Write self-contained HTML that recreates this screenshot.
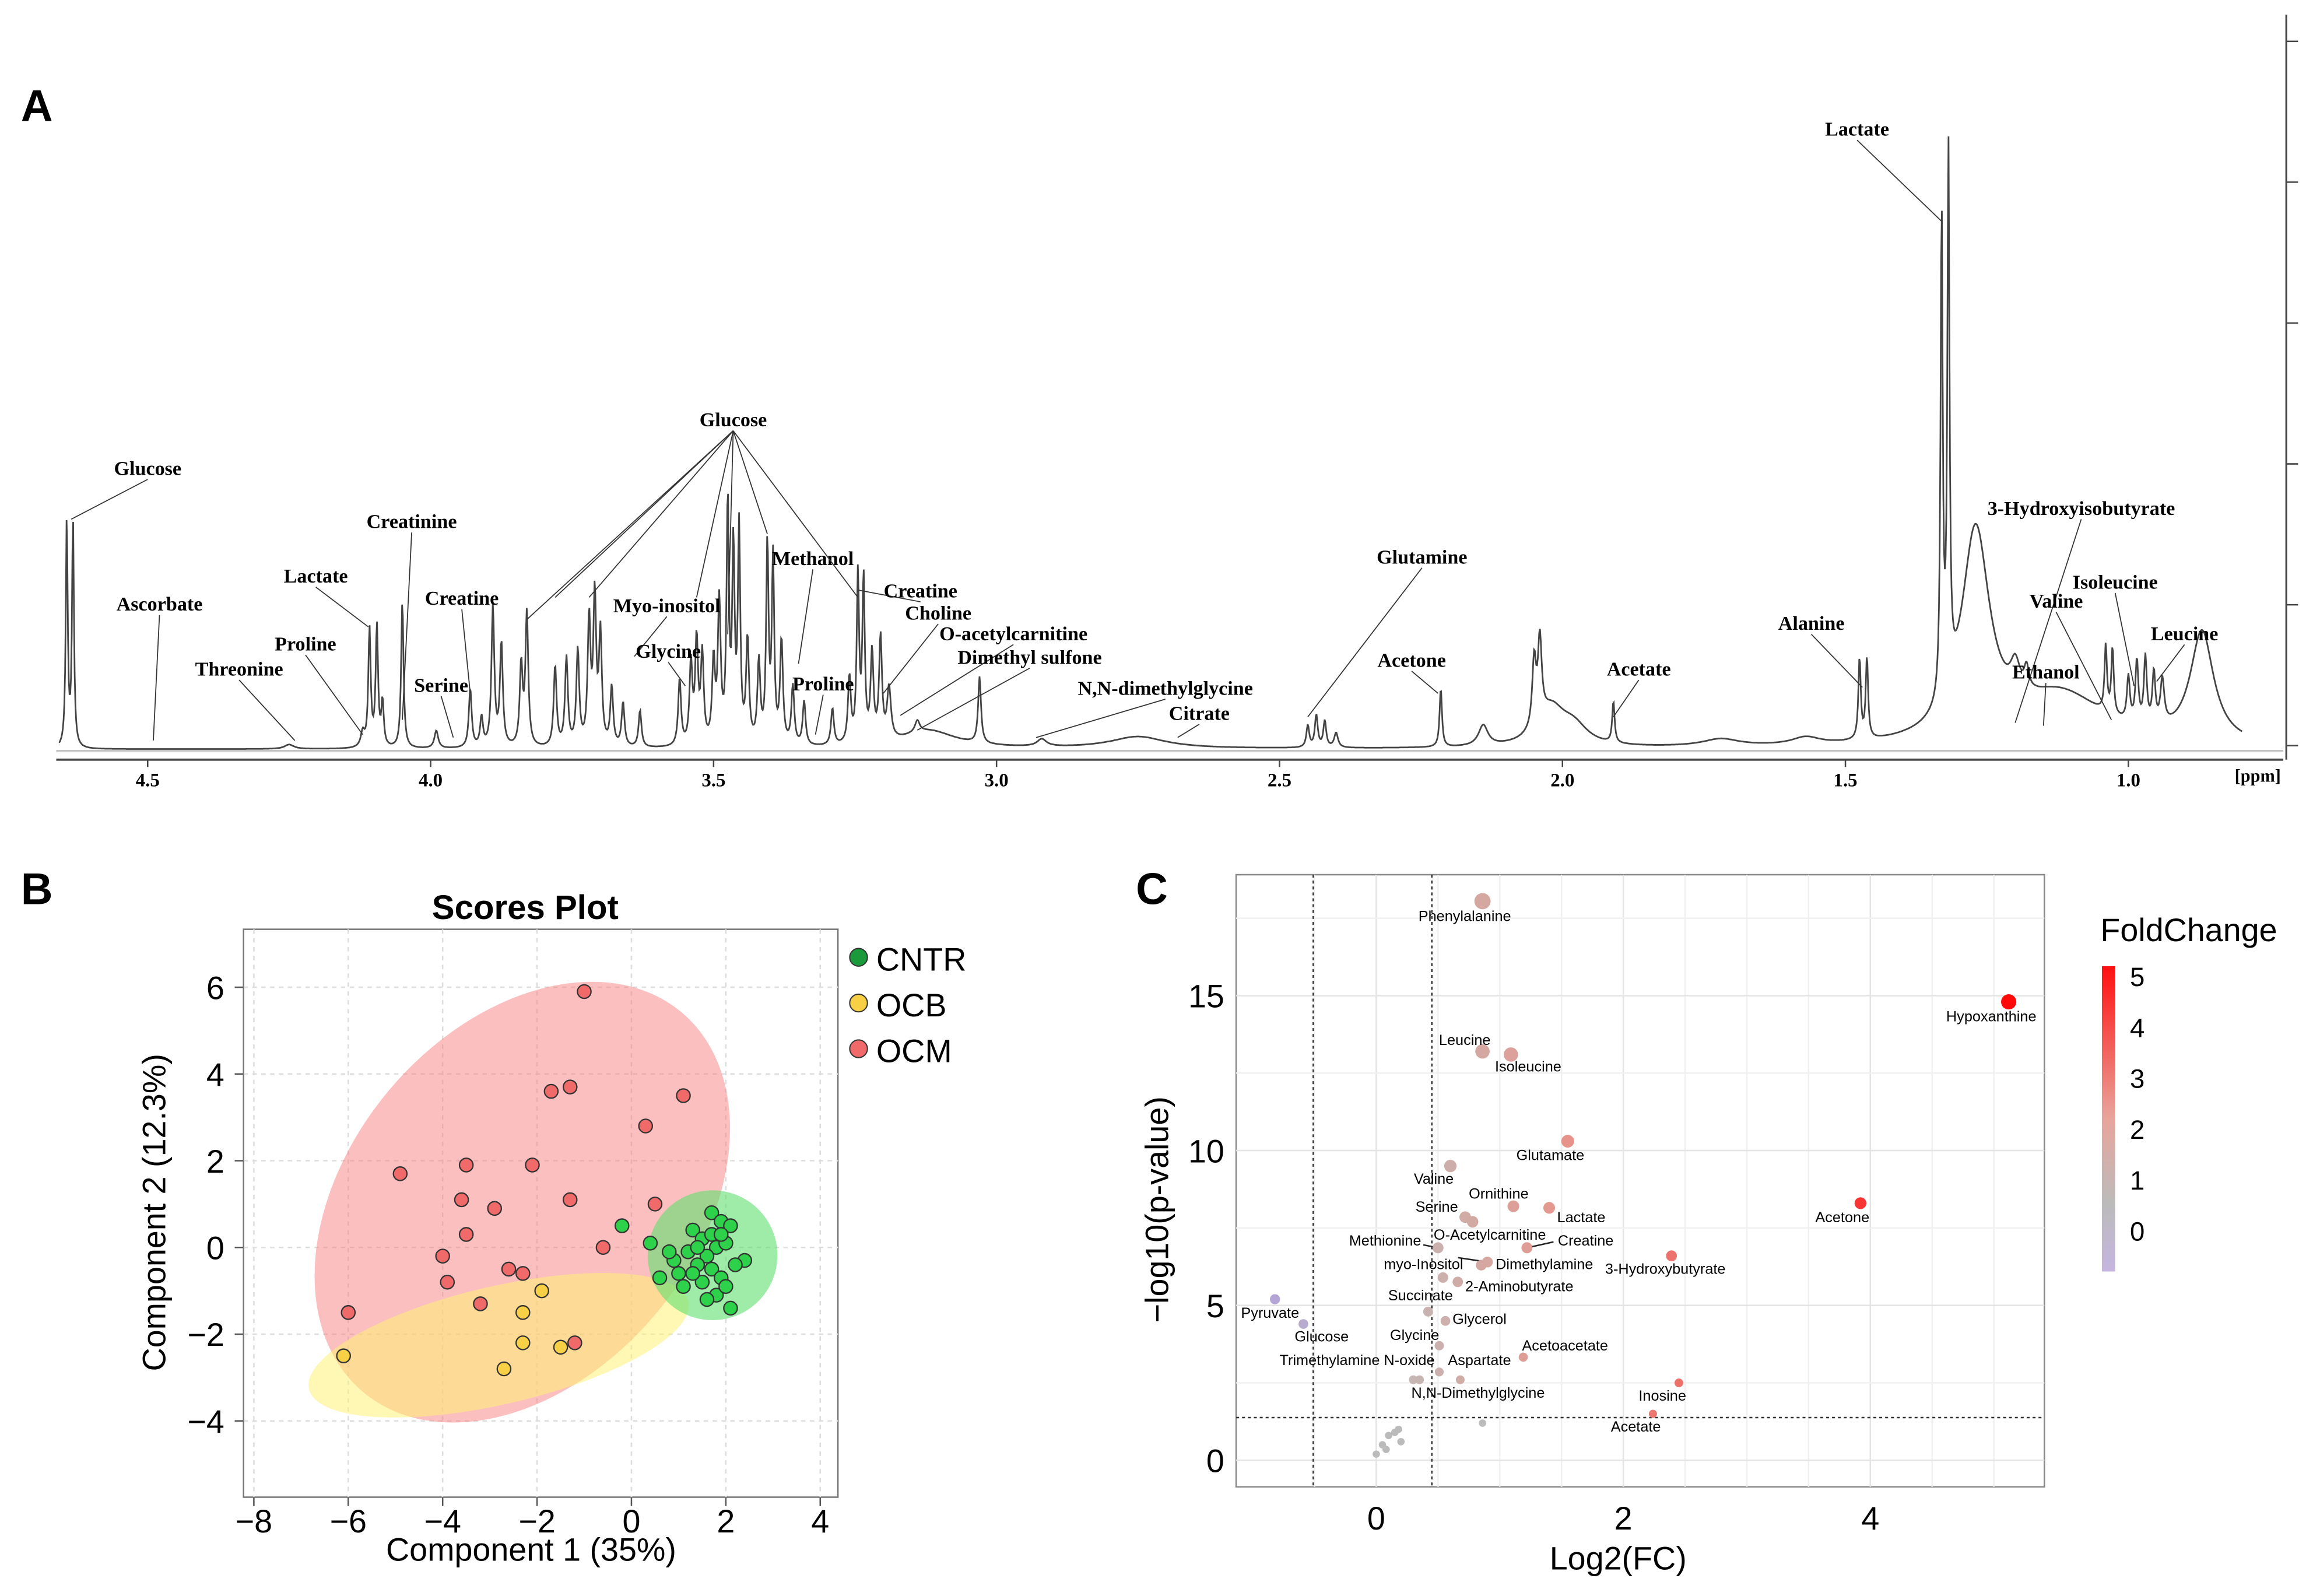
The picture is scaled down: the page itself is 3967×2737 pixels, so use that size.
<!DOCTYPE html>
<html><head><meta charset="utf-8"><style>
html,body{margin:0;padding:0;background:#fff}
svg{display:block}
</style></head><body>
<svg id="fig" xmlns="http://www.w3.org/2000/svg" width="3967" height="2737" viewBox="0 0 1568 1082">
<rect x="0" y="0" width="1568" height="1082" fill="#fff"/>
<g id="panelA"></g>
<g id="panelB"></g>
<g id="panelC"></g>
</svg>
<script>
// ---------- Panel A data ----------
const nmrPeaks = [ // [ppm, height, widthPpm]
[4.643,155,0.002],[4.632,155,0.002],[4.25,3,0.01],[4.12,10,0.004],[4.108,80,0.0025],[4.095,82,0.0025],[4.085,30,0.0025],
[4.05,100,0.0025],[3.99,12,0.004],[3.93,40,0.003],[3.91,20,0.003],[3.89,95,0.003],[3.875,70,0.003],[3.84,55,0.003],
[3.83,90,0.003],[3.78,55,0.003],[3.76,60,0.003],[3.74,65,0.003],[3.72,85,0.003],[3.71,100,0.003],[3.70,75,0.003],
[3.68,40,0.003],[3.66,30,0.003],[3.63,25,0.003],[3.56,45,0.003],[3.54,55,0.003],[3.53,70,0.003],[3.52,60,0.003],
[3.50,55,0.003],[3.49,95,0.003],[3.475,163,0.0025],[3.465,130,0.0025],[3.455,145,0.0025],[3.44,70,0.003],
[3.42,55,0.003],[3.405,135,0.0025],[3.395,125,0.0025],[3.38,70,0.003],[3.36,40,0.003],[3.34,30,0.003],
[3.29,25,0.003],[3.26,45,0.003],[3.245,113,0.0025],[3.235,110,0.0025],[3.22,60,0.003],[3.205,70,0.003],[3.19,35,0.004],
[3.12,12,0.06],[3.14,8,0.005],[3.03,45,0.003],[2.92,5,0.01],[2.75,8,0.06],[2.45,15,0.003],[2.435,22,0.003],[2.42,18,0.003],[2.40,10,0.004],
[2.215,40,0.0025],[2.14,14,0.01],[2.05,45,0.004],[2.04,55,0.004],[2.02,25,0.03],[1.98,12,0.03],[1.91,28,0.0025],
[1.72,5,0.04],[1.57,5,0.03],[1.475,55,0.0025],[1.462,55,0.0025],[1.33,330,0.0022],[1.318,360,0.0022],
[1.27,140,0.03],[1.20,20,0.01],[1.18,15,0.005],[1.04,45,0.0025],[1.028,45,0.0025],[1.00,30,0.003],[0.985,42,0.003],
[0.97,45,0.003],[0.955,35,0.003],[0.94,30,0.004],[0.87,75,0.025],[1.12,35,0.1]
];
const nmrTicks = [4.5,4.0,3.5,3.0,2.5,2.0,1.5,1.0];
const nmrLabels = [ // [text, labelX, labelY, ppmTarget, lineEndY]
["Glucose",100,322,4.635,352],["Ascorbate",108,414,4.49,502],["Threonine",162,458,4.24,502],["Proline",207,441,4.12,498],
["Lactate",214,395,4.11,425],["Creatinine",279,358,4.05,488],["Serine",299,469,3.96,500],["Creatine",313,410,3.93,470],
["Myo-inositol",452,415,3.64,445],["Glycine",453,446,3.55,465],["Glucose",497,289,3.83,420],["Methanol",551,383,3.35,450],
["Proline",558,468,3.32,498],["Creatine",624,405,3.245,400],["Choline",636,420,3.2,470],["O-acetylcarnitine",687,434,3.17,485],
["Dimethyl sulfone",698,450,3.14,495],["N,N-dimethylglycine",790,471,2.93,500],["Citrate",813,488,2.68,500],
["Glutamine",964,382,2.45,486],["Acetone",957,452,2.22,470],["Acetate",1111,458,1.91,486],["Alanine",1228,427,1.47,466],
["Lactate",1259,92,1.33,150],["3-Hydroxyisobutyrate",1411,349,1.20,490],["Isoleucine",1434,399,0.99,465],
["Valine",1394,412,1.03,488],["Ethanol",1387,460,1.15,492],["Leucine",1481,434,0.95,462]
];
// ---------- Panel B data ----------
const ocmX=[-1.0,-1.7,-1.3,1.1,0.3,-4.9,-3.5,-2.1,-3.6,-1.3,0.5,-2.9,-3.5,-0.6,-4.0,-2.6,-2.3,-3.9,-3.2,-6.0,-1.2];
const ocmY=[5.9,3.6,3.7,3.5,2.8,1.7,1.9,1.9,1.1,1.1,1.0,0.9,0.3,0.0,-0.2,-0.5,-0.6,-0.8,-1.3,-1.5,-2.2];
const ocbX=[-6.1,-1.9,-2.3,-2.3,-1.5,-2.7];
const ocbY=[-2.5,-1.0,-1.5,-2.2,-2.3,-2.8];
const cntrX=[-0.2,0.4,1.7,1.9,1.3,2.1,1.5,1.8,2.0,1.2,1.6,2.4,0.9,1.4,1.7,2.2,1.9,1.5,1.1,0.6,1.8,2.1,1.6,1.3,2.0,1.7,1.9,1.4,0.8,1.0];
const cntrY=[0.5,0.1,0.8,0.6,0.4,0.5,0.2,0.0,0.1,-0.1,-0.2,-0.3,-0.3,-0.4,-0.5,-0.4,-0.7,-0.8,-0.9,-0.7,-1.1,-1.4,-1.2,-0.6,-0.9,0.3,0.3,0.0,-0.1,-0.6];
const bXTicks=[-8,-6,-4,-2,0,2,4];
const bYTicks=[-4,-2,0,2,4,6];
// ---------- Panel C data ----------
const volcX=[0.86,5.12,0.86,1.09,1.55,3.92,0.60,0.72,0.78,1.11,1.40,1.22,0.50,0.85,0.90,2.39,0.66,0.54,0.42,0.56,1.19,0.51,0.30,0.35,0.51,0.68,2.45,2.24,-0.82,-0.59,0.86,0.05,0.10,0.15,0.18,0.20,0.0,0.08];
const volcY=[18.05,14.8,13.2,13.1,10.3,8.3,9.5,7.85,7.7,8.2,8.15,6.86,6.86,6.3,6.4,6.6,5.76,5.9,4.8,4.5,3.33,3.7,2.6,2.6,2.85,2.6,2.5,1.5,5.2,4.4,1.2,0.5,0.8,0.9,1.0,0.6,0.2,0.35];
const volcLabels=["Phenylalanine","Hypoxanthine","Leucine","Isoleucine","Glutamate","Acetone","Valine","Serine","","Ornithine","Lactate","Creatine","Methionine","myo-Inositol","Dimethylamine","3-Hydroxybutyrate","2-Aminobutyrate","O-Acetylcarnitine","Succinate","Glycerol","Acetoacetate","Glycine","Trimethylamine N-oxide","","Aspartate","N,N-Dimethylglycine","Inosine","Acetate","Pyruvate","Glucose","","","","","","","",""];
const labelPosX=[993,1350,993,1036,1051,1249,972,974,0,1016,1072,1075,939,965,1047,1129,1030,1010,963,1003,1061,959,920,0,1003,1002,1127,1109,861,896,0,0,0,0,0,0,0,0];
const labelPosY=[621,689,705,723,783,825,799,818,0,809,825,841,841,857,857,860,872,837,878,894,912,905,922,0,922,944,946,967,890,906,0,0,0,0,0,0,0,0];
const cXTicks=[0,2,4];
const cYTicks=[0,5,10,15];
const foldTicks=[0,1,2,3,4,5];

const NS="http://www.w3.org/2000/svg";
function mk(parent,tag,attrs,text){const e=document.createElementNS(NS,tag);for(const k in attrs)e.setAttribute(k,attrs[k]);if(text!==undefined)e.textContent=text;parent.appendChild(e);return e;}

// ===== Panel A =====
(function(){
const g=document.getElementById('panelA');
const xA=p=>100+(4.5-p)*383.7;
const base=508;
const t=mk(g,'text',{x:14,y:82,'font-family':'Liberation Sans, sans-serif','font-size':30,'font-weight':'bold'},'A');

const bl=mk(g,'line',{x1:38,y1:509,x2:1548,y2:509,stroke:'#bbb','stroke-width':1});

let d='';
for(let px=40;px<=1520;px+=0.5){
 const ppm=4.5-(px-100)/383.7;let s=0;
 for(const pk of nmrPeaks){const w=pk[2],dx=ppm-pk[0];s+=pk[1]*w*w/(dx*dx+w*w);}
 d+=(px===40?'M':'L')+px.toFixed(1)+','+(base-s).toFixed(1);
}
const sp=mk(g,'path',{d:d,fill:'none',stroke:'#444',"stroke-width":1.1});

const ax=mk(g,'line',{x1:38,y1:515,x2:1548,y2:515,stroke:'#444','stroke-width':1.5});

const ra=mk(g,'line',{x1:1550,y1:10,x2:1550,y2:515,stroke:'#444','stroke-width':1.2});

for(let i=0;i<6;i++){const yy=28+i*95.5;const tk=mk(g,'line',{x1:1550,y1:yy,x2:1558,y2:yy,stroke:'#444'});}
for(const v of nmrTicks){
 const tl=mk(g,'line',{x1:xA(v),y1:515,x2:xA(v),y2:520,stroke:'#444'});
 
 const tx=mk(g,'text',{x:xA(v),y:533,'text-anchor':'middle','font-family':'Liberation Serif, serif','font-size':13,'font-weight':'bold'},v.toFixed(1));
 
}
const pu=mk(g,'text',{x:1515,y:530,'font-family':'Liberation Serif, serif','font-size':12,'font-weight':'bold'},'[ppm]');

for(const L of nmrLabels){
 const ln=mk(g,'line',{x1:L[1],y1:L[2]+3,x2:xA(L[3]),y2:L[4],stroke:'#333','stroke-width':0.7});
 
 const tx=mk(g,'text',{x:L[1],y:L[2],'text-anchor':'middle','font-family':'Liberation Serif, serif','font-size':13.5,'font-weight':'bold'},L[0]);
 
}
[3.78,3.72,3.53,3.475,3.405,3.245].forEach(p=>{const ln=mk(g,'line',{x1:497,y1:292,x2:xA(p),y2:p===3.475?430:(p===3.405?362:405),stroke:'#333','stroke-width':0.7});});
})();

// ===== Panel B =====
(function(){
const g=document.getElementById('panelB');
const xB=v=>428+v*32, yB=v=>845.7-v*29.4;
const L=mk(g,'text',{x:14,y:613,'font-family':'Liberation Sans, sans-serif','font-size':30,'font-weight':'bold'},'B');

const ti=mk(g,'text',{x:356,y:623,'text-anchor':'middle','font-family':'Liberation Sans, sans-serif','font-size':23,'font-weight':'bold'},'Scores Plot');

const fr=mk(g,'rect',{x:165,y:630,width:403,height:385,fill:'#fff',stroke:'#777','stroke-width':1});

for(const v of bXTicks){const l=mk(g,'line',{x1:xB(v),y1:630,x2:xB(v),y2:1015,stroke:'#ddd','stroke-dasharray':'3,3'});
 const tk=mk(g,'line',{x1:xB(v),y1:1015,x2:xB(v),y2:1021,stroke:'#555'});
 const tx=mk(g,'text',{x:xB(v),y:1039,'text-anchor':'middle','font-family':'Liberation Sans, sans-serif','font-size':22},v<0?'\u2212'+(-v):String(v));}
for(const v of bYTicks){const l=mk(g,'line',{x1:165,y1:yB(v),x2:568,y2:yB(v),stroke:'#ddd','stroke-dasharray':'3,3'});
 const tk=mk(g,'line',{x1:159,y1:yB(v),x2:165,y2:yB(v),stroke:'#555'});
 const tx=mk(g,'text',{x:152,y:yB(v)+8,'text-anchor':'end','font-family':'Liberation Sans, sans-serif','font-size':22},v<0?'\u2212'+(-v):String(v));}
const e1=mk(g,'ellipse',{cx:354,cy:815,rx:168,ry:118,transform:'rotate(-50 354 815)',fill:'#f98080','fill-opacity':0.5});

const e2=mk(g,'ellipse',{cx:338,cy:912,rx:132,ry:40,transform:'rotate(-13 338 912)',fill:'#fff176','fill-opacity':0.55});

const e3=mk(g,'circle',{cx:483,cy:851,r:44,fill:'#5fe070','fill-opacity':0.6});

function pts(X,Y,col,name){for(let i=0;i<X.length;i++){const c=mk(g,'circle',{cx:xB(X[i]),cy:yB(Y[i]),r:4.6,fill:col,stroke:'#333','stroke-width':0.9});}}
pts(ocmX,ocmY,'#f06a6a','ocm-point');pts(ocbX,ocbY,'#f7d046','ocb-point');pts(cntrX,cntrY,'#2ed14a','cntr-point');
const ax=mk(g,'text',{x:360,y:1058,'text-anchor':'middle','font-family':'Liberation Sans, sans-serif','font-size':22},'Component 1 (35%)');

const ay=mk(g,'text',{x:0,y:0,transform:'translate(112 822) rotate(-90)','text-anchor':'middle','font-family':'Liberation Sans, sans-serif','font-size':22},'Component 2 (12.3%)');

[['CNTR','#1a9a3a',651],['OCB','#f7d046',682],['OCM','#f06a6a',713]].forEach(l=>{
 const c=mk(g,'circle',{cx:582,cy:l[2]-2,r:6,fill:l[1],stroke:'#333','stroke-width':0.8});
 const t=mk(g,'text',{x:594,y:l[2]+7,'font-family':'Liberation Sans, sans-serif','font-size':22},l[0]);});
})();

// ===== Panel C =====
(function(){
const g=document.getElementById('panelC');
const xC=v=>933+v*83.75, yC=v=>990-v*21;
const L=mk(g,'text',{x:770,y:613,'font-family':'Liberation Sans, sans-serif','font-size':30,'font-weight':'bold'},'C');

const fr=mk(g,'rect',{x:838,y:593,width:548,height:415,fill:'#fff',stroke:'#888','stroke-width':1});

for(let v=-0.5;v<=5.5;v+=0.5){if(xC(v)<838||xC(v)>1386)continue;const l=mk(g,'line',{x1:xC(v),y1:593,x2:xC(v),y2:1008,stroke:Number.isInteger(v/2)?'#e4e4e4':'#f0f0f0'});}
for(let v=0;v<=17.5;v+=2.5){const l=mk(g,'line',{x1:838,y1:yC(v),x2:1386,y2:yC(v),stroke:v%5===0?'#e4e4e4':'#f0f0f0'});}
for(const v of cXTicks){const tx=mk(g,'text',{x:xC(v),y:1037,'text-anchor':'middle','font-family':'Liberation Sans, sans-serif','font-size':22},String(v));}
for(const v of cYTicks){const tx=mk(g,'text',{x:830,y:yC(v)+8,'text-anchor':'end','font-family':'Liberation Sans, sans-serif','font-size':22},String(v));}
[[-0.51,'v'],[0.45,'v'],[1.38,'h']].forEach(r=>{let l;if(r[1]==='v')l=mk(g,'line',{x1:xC(r[0]),y1:593,x2:xC(r[0]),y2:1008,stroke:'#333','stroke-dasharray':'2,2'});else l=mk(g,'line',{x1:838,y1:yC(r[0]),x2:1386,y2:yC(r[0]),stroke:'#333','stroke-dasharray':'2,2'});});
function col(v){const stops=[[-0.8,[180,165,214]],[0,[190,190,190]],[1.5,[230,150,140]],[5,[255,10,10]]];
 if(v<=stops[0][0])return 'rgb('+stops[0][1]+')';
 for(let i=1;i<stops.length;i++){if(v<=stops[i][0]){const a=stops[i-1],b=stops[i],f=(v-a[0])/(b[0]-a[0]);return 'rgb('+a[1].map((c,j)=>Math.round(c+(b[1][j]-c)*f)).join(',')+')';}}
 return 'rgb(255,10,10)';}
// leader lines (Methionine, Creatine, Dimethylamine)
[[12,-10,-2],[11,18,-4],[14,-20,-3]].forEach(q=>{const i=q[0];const l=mk(g,'line',{x1:xC(volcX[i]),y1:yC(volcY[i]),x2:xC(volcX[i])+q[1],y2:yC(volcY[i])+q[2],stroke:'#222','stroke-width':1});});
for(let i=0;i<volcX.length;i++){const sig=volcY[i]>1.38;const r=sig?Math.min(5.5,2.5+volcY[i]*0.18):2.5;
 const c=mk(g,'circle',{cx:xC(volcX[i]),cy:yC(volcY[i]),r:r,fill:sig?col(volcX[i]):'#bbb'});
 
 if(volcLabels[i]){const t=mk(g,'text',{x:labelPosX[i],y:labelPosY[i]+3.5,'text-anchor':'middle','font-family':'Liberation Sans, sans-serif','font-size':10},volcLabels[i]);
  }}
const ax=mk(g,'text',{x:1097,y:1064,'text-anchor':'middle','font-family':'Liberation Sans, sans-serif','font-size':22},'Log2(FC)');

const ay=mk(g,'text',{x:0,y:0,transform:'translate(792 820) rotate(-90)','text-anchor':'middle','font-family':'Liberation Sans, sans-serif','font-size':22},'\u2212log10(p-value)');

const lt=mk(g,'text',{x:1424,y:638,'font-family':'Liberation Sans, sans-serif','font-size':22},'FoldChange');

const defs=mk(g,'defs',{});const gr=mk(defs,'linearGradient',{id:'fcg',x1:0,y1:1,x2:0,y2:0});
[[0,'#c6b5e0'],[0.22,'#bbbbbb'],[0.5,'#e8a59c'],[1,'#ff1010']].forEach(s=>mk(gr,'stop',{offset:s[0],'stop-color':s[1]}));
const cb=mk(g,'rect',{x:1425,y:655,width:9,height:207,fill:'url(#fcg)'});

for(const v of foldTicks){const yy=834-v*34.5;const tx=mk(g,'text',{x:1444,y:yy+7,'font-family':'Liberation Sans, sans-serif','font-size':18},String(v));}
})();
</script>
</body></html>
